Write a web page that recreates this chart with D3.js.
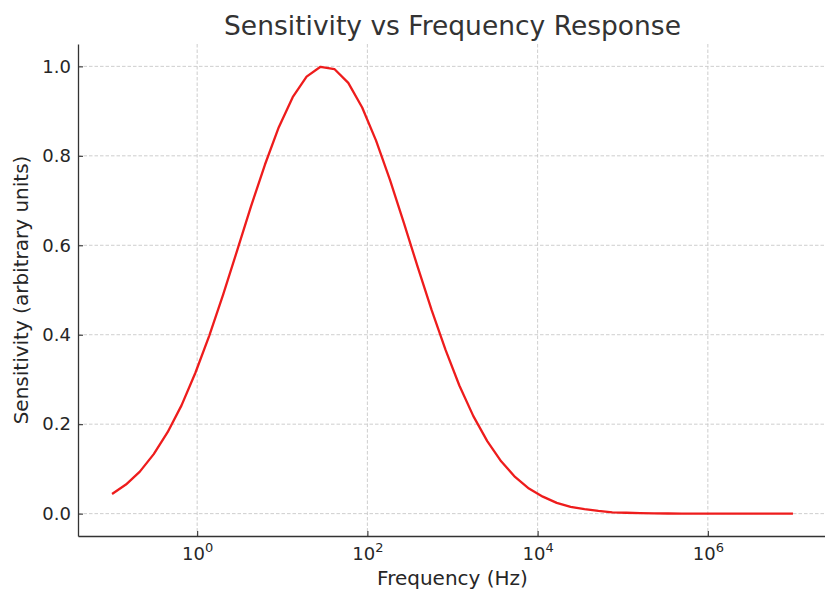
<!DOCTYPE html>
<html>
<head>
<meta charset="utf-8">
<script src="https://cdn.jsdelivr.net/npm/d3@7"></script>
<style>
  html, body { margin: 0; padding: 0; background: #fff; }
  svg { display: block; font-family: "DejaVu Sans", sans-serif; }
</style>
</head>
<body>
<svg id="chart" width="825" height="591"></svg>
<script>
// Frequencies (Hz), log-spaced from 0.1 Hz to 10 MHz
const frequencies = [
  0.1, 0.1456, 0.2121, 0.3089, 0.4498, 0.6551, 0.954, 1.389, 2.024, 2.947,
  4.292, 6.251, 9.103, 13.26, 19.31, 28.12, 40.95, 59.64, 86.85, 126.5,
  184.2, 268.3, 390.7, 569.0, 828.6, 1207, 1758, 2560, 3728, 5429,
  7906, 11514, 16768, 24420, 35564, 51794, 75431, 109854, 159986, 232995,
  339322, 494171, 719686, 1048113, 1526418, 2222996, 3237458, 4714866, 6866488, 10000000
];
// Sensitivity (arbitrary units)
const sensitivity = [
  0.044, 0.065, 0.094, 0.133, 0.182, 0.242, 0.315, 0.398, 0.490, 0.588,
  0.687, 0.780, 0.864, 0.931, 0.977, 0.999, 0.994, 0.963, 0.908, 0.834,
  0.746, 0.650, 0.551, 0.455, 0.366, 0.286, 0.218, 0.162, 0.117, 0.082,
  0.056, 0.038, 0.024, 0.015, 0.010, 0.006, 0.003, 0.002, 0.001, 0.0006,
  0.0003, 0.00015, 0.00008, 0.00004, 0.00002, 0.00001, 0.0, 0.0, 0.0, 0.0
];
const xTickValues = [1, 100, 10000, 1000000];
const xTickExponents = ["0", "2", "4", "6"];
const yTickValues = [0.0, 0.2, 0.4, 0.6, 0.8, 1.0];

const titleText = "Sensitivity vs Frequency Response";
const xLabelText = "Frequency (Hz)";
const yLabelText = "Sensitivity (arbitrary units)";

const svg = d3.select("#chart");
const mLeft = 78, mRight = 827, mTop = 44, mBottom = 536;

const x = d3.scaleLog().domain([Math.pow(10, -1.4), Math.pow(10, 7.4)]).range([mLeft, mRight]);
const y = d3.scaleLinear().domain([-0.05, 1.05]).range([mBottom, mTop]);

// grid
const grid = svg.append("g");
grid.selectAll("line.v").data(xTickValues).enter().append("line")
  .attr("x1", d => x(d)).attr("x2", d => x(d))
  .attr("y1", mTop).attr("y2", mBottom)
  .attr("stroke", "#c8c8c8").attr("stroke-width", 0.9).attr("stroke-dasharray", "3.5,2");
grid.selectAll("line.h").data(yTickValues).enter().append("line")
  .attr("x1", mLeft).attr("x2", mRight)
  .attr("y1", d => y(d)).attr("y2", d => y(d))
  .attr("stroke", "#c8c8c8").attr("stroke-width", 0.9).attr("stroke-dasharray", "3.5,2");

// line
const line = d3.line().x((d, i) => x(frequencies[i])).y(d => y(d));
svg.append("path").datum(sensitivity)
  .attr("d", line)
  .attr("fill", "none")
  .attr("stroke", "#ee1c1c")
  .attr("stroke-width", 2.3)
  .attr("stroke-linejoin", "round");

// axes
const xAxis = d3.axisBottom(x).tickValues(xTickValues).tickSize(-5).tickSizeOuter(0).tickPadding(11)
  .tickFormat(() => "");
const gx = svg.append("g").attr("transform", `translate(0,${mBottom})`).call(xAxis);
gx.select(".domain").attr("stroke", "#333").attr("stroke-width", 1.3);
gx.selectAll(".tick line").attr("stroke", "#333").attr("stroke-width", 1.1);
gx.selectAll(".tick text").each(function(d, i) {
  const t = d3.select(this);
  t.text(null).attr("font-size", 18).attr("fill", "#262626").attr("dy", "0.71em")
   .attr("font-family", "DejaVu Sans, sans-serif");
  t.append("tspan").text("10");
  t.append("tspan").text(xTickExponents[i]).attr("font-size", 13).attr("dy", -7.5);
});

const yAxis = d3.axisLeft(y).tickValues(yTickValues).tickSize(-5).tickSizeOuter(0).tickPadding(7)
  .tickFormat(d3.format(".1f"));
const gy = svg.append("g").attr("transform", `translate(${mLeft},0)`).call(yAxis);
gy.select(".domain").attr("stroke", "#333").attr("stroke-width", 1.3);
gy.selectAll(".tick line").attr("stroke", "#333").attr("stroke-width", 1.1);
gy.selectAll(".tick text").attr("font-size", 18).attr("fill", "#262626")
  .attr("font-family", "DejaVu Sans, sans-serif");

// labels
svg.append("text").attr("x", (mLeft + mRight) / 2).attr("y", 35)
  .attr("text-anchor", "middle").attr("font-size", 26.5).attr("fill", "#333")
  .text(titleText);
svg.append("text").attr("x", (mLeft + mRight) / 2).attr("y", 585)
  .attr("text-anchor", "middle").attr("font-size", 20).attr("fill", "#262626")
  .text(xLabelText);
svg.append("text").attr("transform", `translate(28,${(mTop + mBottom) / 2}) rotate(-90)`)
  .attr("text-anchor", "middle").attr("font-size", 20).attr("fill", "#262626")
  .text(yLabelText);
</script>
</body>
</html>
